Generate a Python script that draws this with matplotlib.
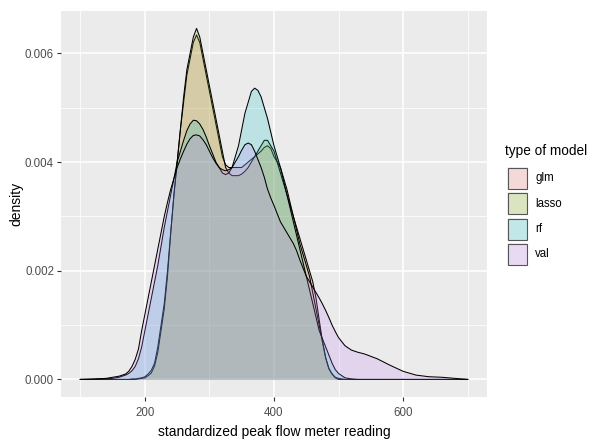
import matplotlib
matplotlib.use("Agg")
import matplotlib.pyplot as plt
from matplotlib.patches import Rectangle
import numpy as np

plt.rcParams['font.family'] = ['Liberation Sans', 'DejaVu Sans']

# ---- data ----
x_grid = [100, 120, 140, 150, 160, 170, 175, 180, 185, 190, 195, 200, 205, 210,
          215, 220, 225, 230, 235, 240, 245, 250, 255, 260, 265, 270, 275, 280,
          285, 290, 295, 300, 305, 310, 315, 320, 325, 330, 335, 340, 345, 350,
          355, 360, 365, 370, 375, 380, 385, 390, 395, 400, 405, 410, 415, 420,
          425, 430, 435, 440, 445, 450, 455, 460, 465, 470, 475, 480, 485, 490,
          495, 500, 510, 520, 530, 540, 560, 580, 600, 620, 640, 660, 680, 700]

dens_glm = [0, 0, 0, 0, 0, 0, 0, 0.00001, 0.00001, 0.00002, 0.00003, 0.00005,
            0.0001, 0.00017, 0.0003, 0.0006, 0.001, 0.0014, 0.002, 0.0027,
            0.0034, 0.004, 0.0046, 0.0051, 0.0056, 0.0059, 0.0062, 0.00634,
            0.0062, 0.0059, 0.0056, 0.0053, 0.005, 0.0047, 0.0044, 0.0041,
            0.00395, 0.0039, 0.0039, 0.0039, 0.0039, 0.0039, 0.00395, 0.004,
            0.00405, 0.0041, 0.00415, 0.0042, 0.00427, 0.0043, 0.00425, 0.0041,
            0.004, 0.0039, 0.0037, 0.0035, 0.00325, 0.003, 0.0028, 0.0026,
            0.0024, 0.0022, 0.002, 0.0018, 0.0015, 0.0011, 0.0007, 0.0004,
            0.0002, 0.0001, 0.00004, 0.00002, 0, 0, 0, 0, 0, 0, 0, 0, 0, 0, 0, 0]

dens_lasso = [0, 0, 0, 0, 0, 0, 0, 0, 0, 0.00001, 0.00002, 0.00003, 0.00007,
              0.00012, 0.00025, 0.0005, 0.0009, 0.0013, 0.0019, 0.0027, 0.0034,
              0.004, 0.0046, 0.0052, 0.0057, 0.006, 0.0063, 0.00646, 0.0063,
              0.006, 0.0057, 0.0054, 0.0051, 0.0048, 0.0045, 0.0042, 0.0039,
              0.0038, 0.00375, 0.00375, 0.00375, 0.00378, 0.00383, 0.0039,
              0.004, 0.0041, 0.0042, 0.0043, 0.0044, 0.0044, 0.0043, 0.0042,
              0.004, 0.0038, 0.0036, 0.0034, 0.0032, 0.003, 0.00275, 0.0025,
              0.0023, 0.0021, 0.0019, 0.0016, 0.0013, 0.001, 0.0007, 0.0004,
              0.0002, 0.0001, 0.00003, 0, 0, 0, 0, 0, 0, 0, 0, 0, 0, 0, 0, 0]

dens_rf = [0, 0, 0.00001, 0.00002, 0.00004, 0.00008, 0.00011, 0.00016, 0.00024,
           0.00038, 0.0006, 0.0009, 0.0012, 0.0015, 0.0018, 0.0021, 0.00245,
           0.0028, 0.0031, 0.0034, 0.0037, 0.004, 0.0042, 0.0044, 0.00458,
           0.0047, 0.00477, 0.00476, 0.0047, 0.0046, 0.00446, 0.0043, 0.00415,
           0.004, 0.0039, 0.0038, 0.00377, 0.0038, 0.0039, 0.0041, 0.0043,
           0.0046, 0.0049, 0.0051, 0.0053, 0.00536, 0.00532, 0.0052, 0.005,
           0.0048, 0.00455, 0.0043, 0.0041, 0.0039, 0.00365, 0.0034, 0.00315,
           0.0029, 0.00265, 0.0024, 0.00215, 0.0019, 0.00165, 0.0014, 0.00115,
           0.0009, 0.00075, 0.0006, 0.00045, 0.0003, 0.00018, 0.00011, 0.00003,
           0.00001, 0, 0, 0, 0, 0, 0, 0, 0, 0, 0]

dens_val = [0, 0.00001, 0.00002, 0.00004, 0.00006, 0.0001, 0.00015, 0.00024,
            0.00037, 0.00056, 0.0009, 0.0012, 0.0015, 0.0018, 0.0021, 0.0024,
            0.0027, 0.003, 0.00326, 0.0035, 0.0037, 0.0039, 0.00406, 0.0042,
            0.00433, 0.00443, 0.00449, 0.0045, 0.00448, 0.00441, 0.00432,
            0.0042, 0.00408, 0.00398, 0.0039, 0.00386, 0.00384, 0.00386,
            0.0039, 0.004, 0.0041, 0.00422, 0.00432, 0.00435, 0.00432, 0.0042,
            0.00405, 0.0039, 0.00372, 0.0035, 0.00334, 0.0032, 0.00305, 0.0029,
            0.0028, 0.0027, 0.0026, 0.0025, 0.00237, 0.0022, 0.00205, 0.0019,
            0.0018, 0.0017, 0.0016, 0.0015, 0.00139, 0.00127, 0.00114, 0.001,
            0.00088, 0.00077, 0.00062, 0.00054, 0.0005, 0.00047, 0.00038,
            0.00026, 0.00015, 0.00008, 0.00005, 0.00004, 0.00002, 0]

models = ['glm', 'lasso', 'rf', 'val']
model_colors = ['#F8766D', '#7CAE00', '#00BFC4', '#C77CFF']
series = [dens_glm, dens_lasso, dens_rf, dens_val]

x_ticks = [200, 400, 600]
y_ticks = [0.000, 0.002, 0.004, 0.006]
y_tick_labels = ['0.000', '0.002', '0.004', '0.006']

# ---- figure ----
W, H = 590, 440
fig = plt.figure(figsize=(W / 100, H / 100), dpi=100)
fig.patch.set_facecolor('white')

left, right, top, bottom = 61, 487, 11, 397
ax = fig.add_axes([left / W, (H - bottom) / H, (right - left) / W, (bottom - top) / H])
ax.set_facecolor('#EBEBEB')

xv = np.array(x_grid, dtype=float)
for name, col, d in zip(models, model_colors, series):
    yv = np.array(d, dtype=float)
    ax.fill_between(xv, 0, yv, color=col, alpha=0.2, lw=0, zorder=3)
    ax.plot(xv, yv, color='black', lw=0.75, zorder=3, solid_joinstyle='round')

ax.set_xlim(70, 730)
ax.set_ylim(-0.000323, 0.00678)

ax.set_xticks(x_ticks)
ax.set_xticks([100, 300, 500, 700], minor=True)
ax.set_yticks(y_ticks)
ax.set_yticklabels(y_tick_labels)
ax.set_yticks([0.001, 0.003, 0.005], minor=True)
ax.grid(which='major', color='white', lw=1.1, zorder=0)
ax.grid(which='minor', color='white', lw=0.55, zorder=0)
ax.set_axisbelow(True)
for s in ax.spines.values():
    s.set_visible(False)
ax.tick_params(which='major', length=3, width=0.8, color='#333333',
               labelcolor='#4D4D4D', labelsize=8.3)
ax.tick_params(axis='x', which='major', pad=4.5)
ax.tick_params(axis='y', which='major', pad=2)
ax.tick_params(which='minor', length=0)

ax.set_xlabel('standardized peak flow meter reading', fontsize=10, color='black', labelpad=4)
ax.set_ylabel('density', fontsize=10, color='black', labelpad=1)

# ---- legend ----
lax = fig.add_axes([0, 0, 1, 1], facecolor='none')
lax.set_xlim(0, W)
lax.set_ylim(H, 0)
lax.axis('off')
lax.text(505, 151, 'type of model', fontsize=9.8, va='center', ha='left')
key_top = 167
for i, (name, col) in enumerate(zip(models, model_colors)):
    y0 = key_top + i * 25.3
    lax.add_patch(Rectangle((506.5, y0), 21, 23, facecolor='#F2F2F2', edgecolor='none'))
    lax.add_patch(Rectangle((507.5, y0 + 1), 19, 21, facecolor=col, alpha=0.2,
                            edgecolor='none'))
    lax.add_patch(Rectangle((507.5, y0 + 1), 19, 21, facecolor='none',
                            edgecolor='#555555', lw=0.8))
    lax.text(535, y0 + 11.5, name, fontsize=8.3, va='center', ha='left')

fig.savefig('out.png', dpi=100)
